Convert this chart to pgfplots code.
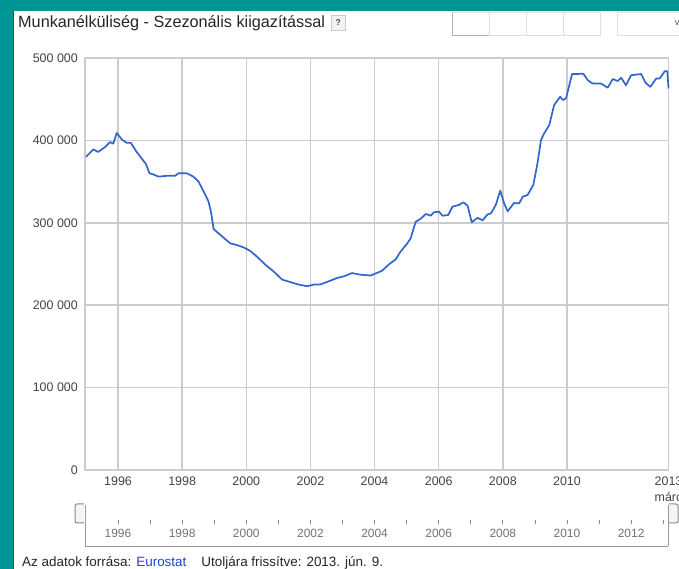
\documentclass[border=0pt]{standalone}
\usepackage{pgfplots}
\pgfplotsset{compat=1.18}
\usepackage{fontspec}
\setmainfont{Liberation Sans}
\definecolor{teal1}{RGB}{0,150,150}
\definecolor{gline}{RGB}{204,204,204}
\definecolor{gblue}{RGB}{51,102,204}
\definecolor{lbl}{RGB}{68,68,68}
\definecolor{linkblue}{RGB}{34,68,204}
\pgfplotstableread{
x y
1995.00 380000
1995.10 384000
1995.23 389000
1995.38 386000
1995.60 392000
1995.75 398000
1995.85 396000
1995.96 409000
1996.12 401000
1996.27 397000
1996.40 397000
1996.58 386000
1996.74 378000
1996.875 371000
1996.98 360000
1997.08 359000
1997.26 356000
1997.52 357000
1997.78 357000
1997.88 360000
1998.15 360000
1998.35 356000
1998.51 350000
1998.67 338000
1998.82 326000
1998.90 313000
1998.98 292500
1999.08 289000
1999.29 282000
1999.50 275000
1999.71 273000
1999.92 270000
2000.12 266000
2000.33 259000
2000.60 249000
2000.85 241000
2001.12 231000
2001.38 228000
2001.63 225000
2001.90 223000
2002.10 225000
2002.30 225000
2002.57 229000
2002.83 233000
2003.04 235000
2003.30 239000
2003.56 237000
2003.88 236000
2004.19 241000
2004.24 242000
2004.45 249600
2004.66 255700
2004.81 265000
2005.02 275000
2005.125 281000
2005.28 301000
2005.44 305000
2005.60 310700
2005.75 308600
2005.85 312700
2006.01 313500
2006.12 308600
2006.30 309500
2006.43 319600
2006.63 321600
2006.77 324900
2006.90 320800
2007.03 300600
2007.21 306000
2007.37 303000
2007.52 310000
2007.63 311500
2007.78 321600
2007.92 339000
2008.04 323600
2008.15 314000
2008.35 324000
2008.51 323600
2008.62 331700
2008.77 333700
2008.95 345900
2009.08 372000
2009.19 400500
2009.29 408600
2009.45 418700
2009.60 443000
2009.79 453000
2009.87 449000
2009.97 451000
2010.16 480600
2010.33 480600
2010.51 481000
2010.65 473000
2010.80 469000
2011.06 469000
2011.27 464000
2011.43 474500
2011.58 472000
2011.69 476000
2011.84 467000
2012.00 479000
2012.31 480600
2012.45 470000
2012.60 465000
2012.78 475000
2012.89 475000
2013.05 484000
2013.13 484000
2013.167 463000
}\datatable
\begin{document}
\begin{tikzpicture}[x=1bp,y=1bp]
\useasboundingbox (0,0) rectangle (679,569);
\fill[white] (0,0) rectangle (679,569);
\fill[teal1] (0,0) rectangle (12.5,569);
\fill[teal1] (0,558) rectangle (679,569);
\draw[black!70, line width=1bp] (13,0) -- (13,558);
% title
\node[anchor=base west, inner sep=0, font=\fontsize{16.3}{18}\selectfont, text=black!85] (T) at (18,541) {Munkanélküliség - Szezonális kiigazítással};
\draw[gline, fill=black!5] ([xshift=6bp]T.base east) ++(0,-2) rectangle ++(14,15);
\node[inner sep=0, font=\fontsize{8.5}{9}\selectfont\bfseries, text=black!70] at ([xshift=13bp,yshift=5.5bp]T.base east) {?};
% top-right controls
\draw[black!12, line width=0.8bp] (452,534) rectangle (600,557);
\draw[black!12, line width=0.8bp] (489,534) -- (489,557) (526,534) -- (526,557) (563,534) -- (563,557);
\draw[black!30, line width=0.8bp] (452,557) -- (452,534) -- (489,534);
\draw[black!12, line width=0.8bp] (617,534) rectangle (690,557);
\node[inner sep=0, font=\fontsize{9}{9}\selectfont, text=black!70] at (677,546) {v};
\begin{axis}[
  at={(85bp,99bp)}, anchor=south west,
  scale only axis, width=583.5bp, height=412bp,
  xmin=1994.97, xmax=2013.167, ymin=0, ymax=500000,
  scaled y ticks=false, scaled x ticks=false,
  xtick={1996,1998,2000,2002,2004,2006,2008,2010},
  xticklabels={1996,1998,2000,2002,2004,2006,2008,2010},
  ytick={0,100000,200000,300000,400000,500000},
  yticklabels={0,100 000,200 000,300 000,400 000,500 000},
  extra x ticks={2013.167},
  extra x tick labels={2013},
  extra x tick style={grid=none},
  xmajorgrids, ymajorgrids,
  grid style={gline, line width=1.5bp},
  axis line style={gline, line width=1.5bp},
  major tick length=0pt,
  tick label style={font=\fontsize{12.5}{14}\selectfont, text=lbl, inner sep=0pt},
  yticklabel style={xshift=-7bp},
  xticklabel style={yshift=-7bp, anchor=north},
  /pgf/number format/assume math mode=true,
  clip=false,
]
\addplot[gblue, line width=1.7bp, no marks, line join=round] table[x=x,y=y] {\datatable};
\end{axis}
\node[inner sep=0, anchor=north, font=\fontsize{12.5}{14}\selectfont, text=lbl] at (668.5,77) {márc};
% range selector
\draw[black!40, line width=0.8bp] (85,23) -- (668,23);
\draw[black!40, line width=0.8bp] (85,23) -- (85,64);
\draw[black!40, line width=0.8bp] (668,23) -- (668,64);
\draw[black!45, line width=1bp, fill=black!4, rounded corners=2bp] (84,46) -- (75,46) -- (75,65) -- (84,65);
\draw[black!45, line width=1bp, fill=black!4, rounded corners=2bp] (669,46) -- (678,46) -- (678,65) -- (669,65);
\foreach \yr in {1996,1997,...,2013} {
  \draw[black!45, line width=0.8bp] ({118+(\yr-1996)*32.07},45) -- ({118+(\yr-1996)*32.07},49);
}
\foreach \yr in {1996,1998,...,2012} {
  \node[inner sep=0, font=\fontsize{12}{13}\selectfont, text=black!55] at ({118+(\yr-1996)*32.07},36) {\yr};
}
% footer
\node[anchor=base west, inner sep=0, font=\fontsize{13.5}{15}\selectfont, text=black!85] at (22,2) {Az adatok forrása: \textcolor{linkblue}{Eurostat}\hspace{15bp}Utoljára frissítve: 2013. jún. 9.};
\end{tikzpicture}
\end{document}
